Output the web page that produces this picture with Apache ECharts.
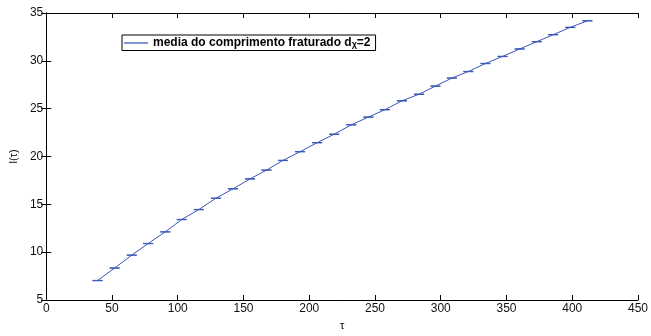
<!DOCTYPE html>
<html>
<head>
  <meta charset="UTF-8" />
  <script src="https://cdn.jsdelivr.net/npm/echarts@6/dist/echarts.min.js"></script>
  <style>
    html, body, #main { margin: 0; padding: 0; width: 651px; height: 336px; background: #fff; }
  </style>
</head>
<body>
  <div id="main"></div>
  <script>
    // tau values
    const tau = [39, 52, 65, 77.5, 90.5, 103, 116, 129, 142, 155, 167.5, 180, 193, 206, 219,
      232, 245, 257.5, 270.5, 283.5, 296, 308.5, 321, 334, 347, 360, 373, 385.5, 398.5, 411.5];
    // mean fractured length l(tau)
    const lTau = [7.03, 8.34, 9.69, 10.9, 12.12, 13.41, 14.45, 15.64, 16.62, 17.66, 18.58, 19.59, 20.5, 21.44, 22.33,
      23.31, 24.12, 24.89, 25.82, 26.51, 27.36, 28.2, 28.88, 29.72, 30.46, 31.24, 32.0, 32.73, 33.5, 34.18];
    // half-height of the error bars (very small)
    const errs = [0.02, 0.02, 0.02, 0.02, 0.02, 0.02, 0.02, 0.02, 0.02, 0.02, 0.02, 0.02, 0.02, 0.02, 0.02,
      0.02, 0.02, 0.02, 0.02, 0.02, 0.02, 0.02, 0.02, 0.02, 0.02, 0.02, 0.02, 0.02, 0.02, 0.02];
    const xTicks = [0, 50, 100, 150, 200, 250, 300, 350, 400, 450];
    const yTicks = [5, 10, 15, 20, 25, 30, 35];

    const lineColor = '#3a56b8';
    const font = 'Liberation Sans, Arial, sans-serif';

    const chart = echarts.init(document.getElementById('main'));

    const lineData = tau.map((t, i) => [t, lTau[i]]);
    const errData = tau.map((t, i) => [t, lTau[i], errs[i]]);

    const axisCommon = {
      type: 'value',
      axisLine: { show: true, lineStyle: { color: '#000', width: 1 } },
      axisTick: { show: true, inside: true, length: 5, lineStyle: { color: '#000' } },
      splitLine: { show: false }
    };

    const option = {
      animation: false,
      grid: { left: 43, right: 9, top: 13, bottom: 27 },
      legend: {
        left: 122, top: 35,
        orient: 'horizontal',
        borderColor: '#000', borderWidth: 1, borderRadius: 0,
        padding: [2, 5, 1, 2],
        itemWidth: 24, itemHeight: 2, itemGap: 2,
        data: [{ name: 'media', icon: 'rect', itemStyle: { color: '#8196d2' } }],
        formatter: () => '{b|media do comprimento fraturado d}{s|χ}{b|=2}',
        textStyle: {
          rich: {
            b: { fontFamily: font, fontWeight: 'bold', fontSize: 12, color: '#000' },
            s: { fontFamily: font, fontWeight: 'bold', fontSize: 9, color: '#000', verticalAlign: 'bottom', padding: [4, 0, 0, 0] }
          }
        }
      },
      xAxis: [
        Object.assign({}, axisCommon, {
          min: xTicks[0], max: xTicks[xTicks.length - 1], interval: 50,
          position: 'bottom',
          name: 'τ', nameLocation: 'middle', nameGap: 20,
          nameTextStyle: { fontFamily: font, fontSize: 11, color: '#000' },
          axisLabel: { fontFamily: font, fontSize: 12, color: '#111', margin: 3 }
        }),
        Object.assign({}, axisCommon, {
          min: xTicks[0], max: xTicks[xTicks.length - 1], interval: 50,
          position: 'top', axisLabel: { show: false }
        })
      ],
      yAxis: [
        Object.assign({}, axisCommon, {
          min: yTicks[0], max: yTicks[yTicks.length - 1], interval: 5,
          position: 'left',
          name: 'l(τ)', nameLocation: 'middle', nameGap: 14, nameRotate: 90,
          nameTextStyle: { fontFamily: font, fontSize: 11, color: '#000' },
          axisLabel: { fontFamily: font, fontSize: 12, color: '#111', margin: 3 }
        }),
        Object.assign({}, axisCommon, {
          min: yTicks[0], max: yTicks[yTicks.length - 1], interval: 5,
          position: 'right', axisLabel: { show: false }
        })
      ],
      series: [
        {
          name: 'media',
          type: 'line',
          data: lineData,
          showSymbol: false,
          symbol: 'none',
          lineStyle: { color: lineColor, width: 1 },
          itemStyle: { color: lineColor }
        },
        {
          name: 'err',
          type: 'custom',
          data: errData,
          renderItem: function (params, api) {
            const x = api.value(0), y = api.value(1), e = api.value(2);
            const lo = api.coord([x, y - e]);
            const hi = api.coord([x, y + e]);
            const w = 5;
            const style = { stroke: lineColor, lineWidth: 1 };
            return {
              type: 'group',
              children: [
                { type: 'line', shape: { x1: lo[0], y1: lo[1], x2: hi[0], y2: hi[1] }, style },
                { type: 'line', shape: { x1: lo[0] - w, y1: lo[1], x2: lo[0] + w, y2: lo[1] }, style },
                { type: 'line', shape: { x1: hi[0] - w, y1: hi[1], x2: hi[0] + w, y2: hi[1] }, style }
              ]
            };
          },
          z: 3
        }
      ]
    };

    chart.setOption(option);
  </script>
</body>
</html>
